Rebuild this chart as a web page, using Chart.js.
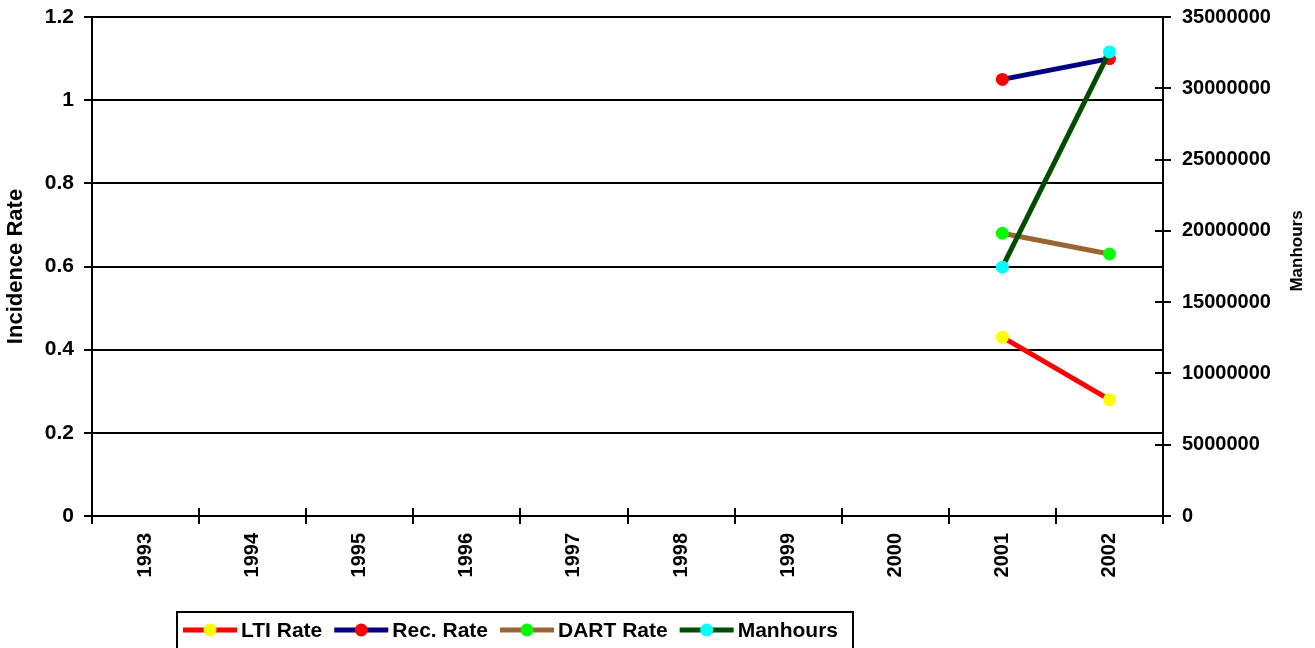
<!DOCTYPE html>
<html>
<head>
<meta charset="utf-8">
<script src="https://cdn.jsdelivr.net/npm/chart.js@4"></script>
<style>
html,body{margin:0;padding:0;background:#fff;}
#wrap{width:1315px;height:648px;position:relative;}
</style>
</head>
<body>
<div id="wrap"><canvas id="c" width="1315" height="648"></canvas></div>
<script>
const years = ['1993','1994','1995','1996','1997','1998','1999','2000','2001','2002'];
const ltiRate = [null,null,null,null,null,null,null,null,0.43,0.28];
const recRate = [null,null,null,null,null,null,null,null,1.05,1.10];
const dartRate = [null,null,null,null,null,null,null,null,0.68,0.63];
const manhours = [null,null,null,null,null,null,null,null,17450000,32550000];
const seriesNames = ['LTI Rate','Rec. Rate','DART Rate','Manhours'];
const lineColors = ['#ff0000','#000080','#996633','#004d00'];
const markerColors = ['#ffff00','#ff0000','#00ff00','#00ffff'];
const leftTitle = 'Incidence Rate';
const rightTitle = 'Manhours';

const FONT = '"Liberation Sans", Arial, sans-serif';
Chart.defaults.font.family = FONT;
Chart.defaults.font.weight = 'bold';
Chart.defaults.color = '#000';

function ds(i, data, axis, order){
  return {
    label: seriesNames[i], data: data, yAxisID: axis, order: order,
    borderColor: lineColors[i], backgroundColor: markerColors[i],
    pointBackgroundColor: markerColors[i], pointBorderColor: markerColors[i],
    borderWidth: 5, pointRadius: 6.5, pointBorderWidth: 0, pointHoverRadius: 6.5,
    spanGaps: false, tension: 0
  };
}

const axesPlugin = {
  id: 'axesPlugin',
  beforeDatasetsDraw(chart){
    const ctx = chart.ctx, a = chart.chartArea;
    const yl = chart.scales.y, yr = chart.scales.y1;
    ctx.save();
    ctx.strokeStyle = '#000';
    ctx.lineWidth = 2;
    ctx.beginPath();
    ctx.moveTo(a.left, a.top); ctx.lineTo(a.left, a.bottom + 1);
    ctx.moveTo(a.right, a.top); ctx.lineTo(a.right, a.bottom + 1);
    ctx.moveTo(a.left, a.bottom); ctx.lineTo(a.right, a.bottom);
    yl.ticks.forEach(t => { const y = Math.round(yl.getPixelForValue(t.value)); ctx.moveTo(a.left - 8, y); ctx.lineTo(a.left + 8, y); });
    yr.ticks.forEach(t => { const y = Math.round(yr.getPixelForValue(t.value)); ctx.moveTo(a.right - 8, y); ctx.lineTo(a.right + 8, y); });
    const n = years.length, w = (a.right - a.left) / n;
    for (let i = 0; i <= n; i++) { const x = Math.round(a.left + i * w); ctx.moveTo(x, a.bottom - 8); ctx.lineTo(x, a.bottom + 8); }
    ctx.stroke();
    ctx.restore();
  },
  afterDraw(chart){
    const ctx = chart.ctx, a = chart.chartArea;
    ctx.save();
    ctx.font = 'bold 17px ' + FONT;
    ctx.fillStyle = '#000';
    ctx.translate(1297, 251);
    ctx.rotate(-Math.PI / 2);
    ctx.textAlign = 'center'; ctx.textBaseline = 'middle';
    ctx.fillText(rightTitle, 0, 0);
    ctx.restore();

    ctx.save();
    ctx.strokeStyle = '#000'; ctx.lineWidth = 2;
    ctx.strokeRect(177, 612, 676, 60);
    ctx.font = 'bold 21px ' + FONT;
    ctx.textBaseline = 'middle'; ctx.textAlign = 'left';
    let x = 183; const y = 630;
    chart.data.datasets.forEach((d, i) => {
      ctx.strokeStyle = d.borderColor; ctx.lineWidth = 5;
      ctx.beginPath(); ctx.moveTo(x, y); ctx.lineTo(x + 54, y); ctx.stroke();
      ctx.fillStyle = d.pointBackgroundColor;
      ctx.beginPath(); ctx.arc(x + 27, y, 6.5, 0, Math.PI * 2); ctx.fill();
      ctx.fillStyle = '#000';
      ctx.fillText(d.label, x + 58, y + 1);
      x += 58 + ctx.measureText(d.label).width + 12;
    });
    ctx.restore();
  }
};

new Chart(document.getElementById('c'), {
  type: 'line',
  data: {
    labels: years,
    datasets: [
      ds(0, ltiRate, 'y', 4),
      ds(1, recRate, 'y', 3),
      ds(2, dartRate, 'y', 2),
      ds(3, manhours, 'y1', 1)
    ]
  },
  plugins: [axesPlugin],
  options: {
    responsive: false, animation: false,
    layout: { padding: { top: 17, left: 0, right: 0, bottom: 0 } },
    plugins: { legend: { display: false }, tooltip: { enabled: false } },
    scales: {
      x: {
        type: 'category', offset: true,
        grid: { display: false, drawTicks: false },
        border: { display: false },
        ticks: { minRotation: 90, maxRotation: 90, autoSkip: false, padding: 17, font: { size: 20, weight: 'bold' }, color: '#000' },
        afterFit(s){ s.height = 132; }
      },
      y: {
        position: 'left', min: 0, max: 1.2,
        grid: { color: '#000', lineWidth: 2, drawTicks: false },
        border: { display: false },
        ticks: { stepSize: 0.2, padding: 18, font: { size: 21, weight: 'bold' }, color: '#000',
          callback: v => String(Math.round(v * 10) / 10) },
        title: { display: true, text: leftTitle, font: { size: 22, weight: 'bold' }, color: '#000', padding: { top: 3, bottom: 0 } },
        afterFit(s){ s.width = 92; s.paddingTop = 0; s.paddingBottom = 0; }
      },
      y1: {
        position: 'right', min: 0, max: 35000000,
        grid: { drawOnChartArea: false, drawTicks: false },
        border: { display: false },
        ticks: { stepSize: 5000000, padding: 19, font: { size: 20, weight: 'bold' }, color: '#000', callback: v => String(v) },
        afterFit(s){ s.width = 152; s.paddingTop = 0; s.paddingBottom = 0; }
      }
    }
  }
});
</script>
</body>
</html>
